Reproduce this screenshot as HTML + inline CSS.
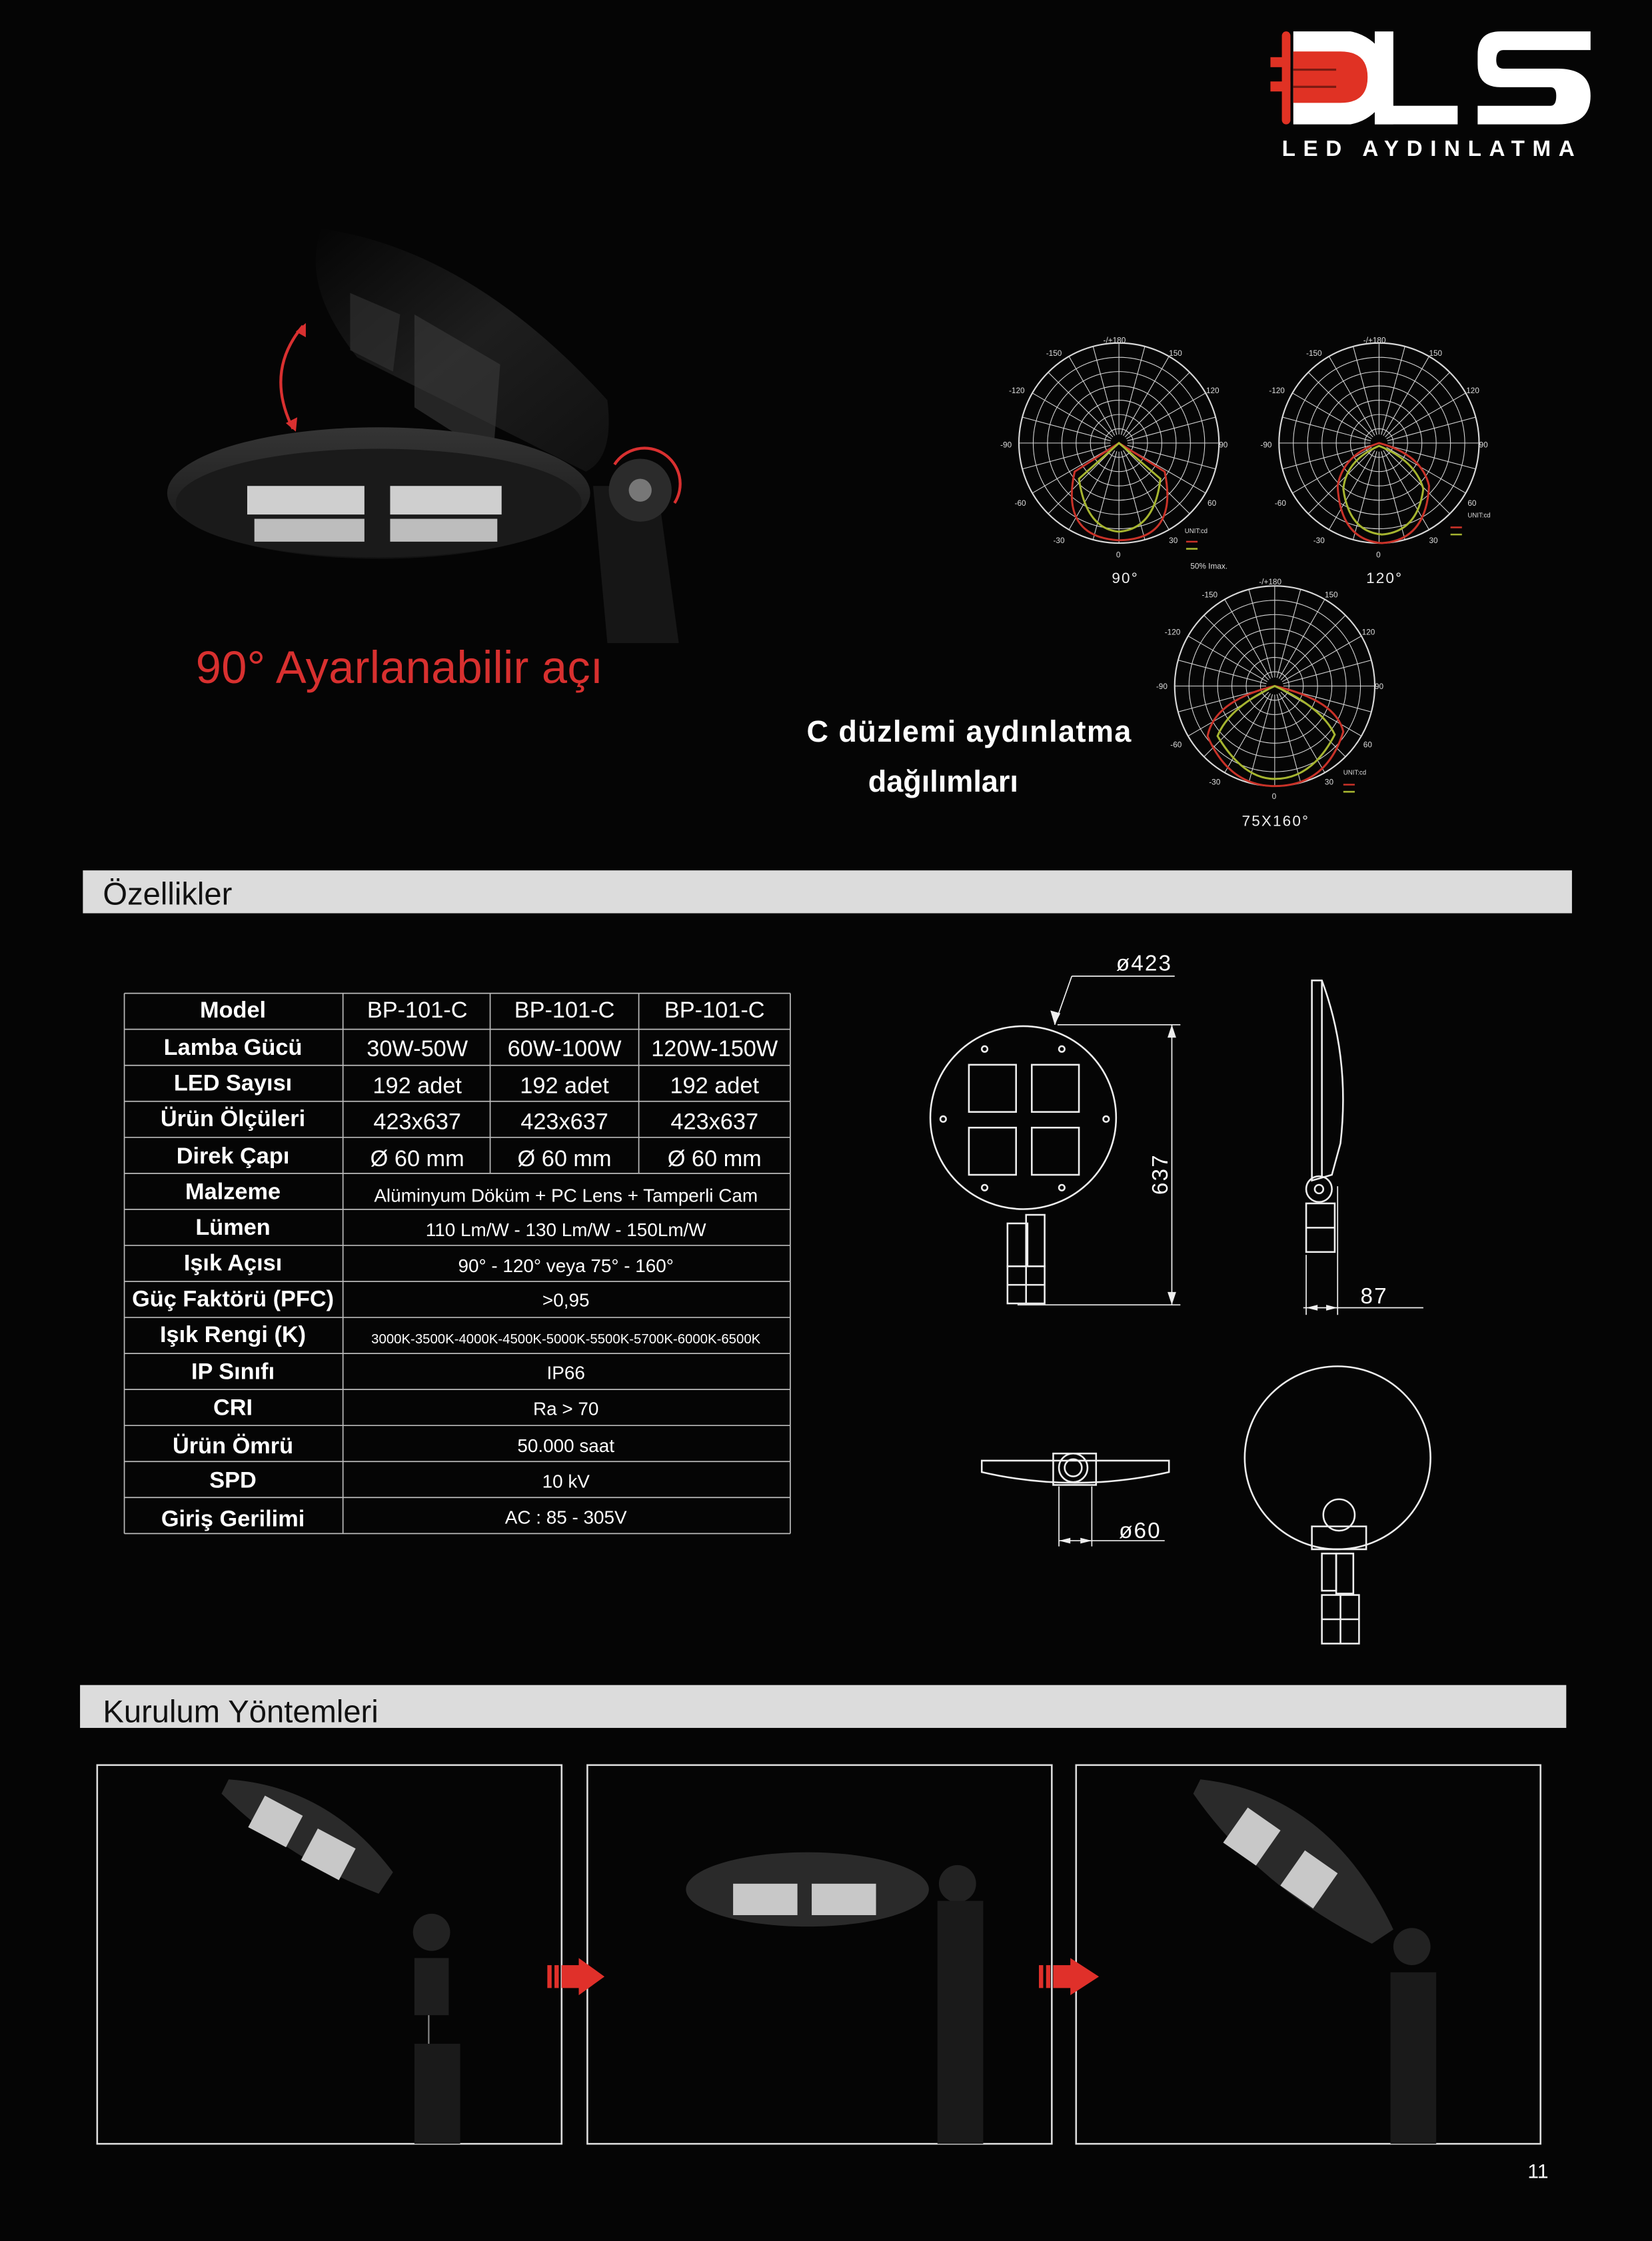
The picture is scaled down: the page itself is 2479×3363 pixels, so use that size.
<!DOCTYPE html>
<html><head><meta charset="utf-8"><style>
html,body{margin:0;padding:0;background:#050505;}
svg{display:block;}
text{font-family:"Liberation Sans",sans-serif;}
</style></head><body>
<svg xmlns="http://www.w3.org/2000/svg" width="2479" height="3363" viewBox="0 0 1156 1568" preserveAspectRatio="none">
<rect width="1156" height="1568" fill="#050505"/>

<!-- Logo -->
<g>
  <rect x="897" y="22" width="6" height="65" rx="3" fill="#e03224"/>
  <rect x="889" y="40" width="14" height="7" fill="#e03224"/>
  <rect x="889" y="57" width="14" height="7" fill="#e03224"/>
  <path d="M905,22 H945 A33,33 0 0 1 945,87 H905 Z" fill="#fff"/>
  <path d="M905,36 H938 Q957,36 957,54 Q957,72 938,72 H905 Z" fill="#e03224"/>
  <rect x="905" y="48" width="30" height="1.5" fill="#7a1a12"/>
  <rect x="905" y="60" width="30" height="1.5" fill="#7a1a12"/>
  <rect x="962" y="22" width="13" height="65" fill="#fff"/>
  <rect x="962" y="74" width="58" height="13" fill="#fff"/>
  <path d="M1113,22 H1050 Q1034,22 1034,38 V45 Q1034,61 1050,61 H1085 Q1089,61 1089,67 Q1089,74 1085,74 H1034 V87 H1090 Q1113,87 1113,67 Q1113,48 1090,48 H1052 Q1047,48 1047,42 Q1047,35 1052,35 H1113 Z" fill="#fff"/>
  <text x="897" y="109" font-size="15.5" font-weight="bold" fill="#fff" letter-spacing="5.4">LED AYDINLATMA</text>
</g>

<!-- Hero lamp -->
<g>
  <defs>
    <linearGradient id="lg1" x1="0" y1="0" x2="1" y2="1"><stop offset="0" stop-color="#050505"/><stop offset="0.5" stop-color="#1e1e1e"/><stop offset="1" stop-color="#101010"/></linearGradient>
    <linearGradient id="lg2" x1="0" y1="0" x2="0" y2="1"><stop offset="0" stop-color="#353535"/><stop offset="1" stop-color="#111"/></linearGradient>
  </defs>
  <path d="M225,160 Q330,175 425,280 Q430,320 410,330 L250,250 Q210,200 225,160Z" fill="url(#lg1)"/>
  <path d="M290,220 L350,255 L345,320 L290,285Z" fill="#3a3a3a" opacity="0.6"/>
  <path d="M245,205 L280,220 L275,260 L245,245Z" fill="#333" opacity="0.6"/>
  <path d="M415,340 L460,340 L475,450 L425,450Z" fill="#161616"/>
  <ellipse cx="265" cy="345" rx="148" ry="46" fill="url(#lg2)"/>
  <ellipse cx="265" cy="352" rx="142" ry="38" fill="#1a1a1a"/>
  <rect x="173" y="340" width="82" height="20" fill="#cfcfcf"/>
  <rect x="273" y="340" width="78" height="20" fill="#cfcfcf"/>
  <rect x="178" y="363" width="77" height="16" fill="#bdbdbd"/>
  <rect x="273" y="363" width="75" height="16" fill="#bdbdbd"/>
  <circle cx="448" cy="343" r="22" fill="#2b2b2b"/>
  <circle cx="448" cy="343" r="8" fill="#777"/>
  <path d="M212,228 Q185,260 205,300" stroke="#d93030" stroke-width="2" fill="none"/>
  <path d="M207,232 L214,226 L214,236Z M200,296 L207,302 L208,292Z" fill="#d93030"/>
  <path d="M430,325 A24,24 0 0 1 472,352" stroke="#d93030" stroke-width="2" fill="none"/>
  <text x="137" y="478" font-size="32" fill="#d8302f" textLength="285">90° Ayarlanabilir açı</text>
</g>

<!-- Polar charts -->
<g id="polars" stroke="#d8d8d8" stroke-width="0.7" fill="none"></g>
<g font-size="5.5" fill="#ddd" font-family="Liberation Mono">
  <text x="772" y="240">-/+180</text><text x="732" y="249">-150</text><text x="818" y="249">150</text>
  <text x="706" y="275">-120</text><text x="844" y="275">120</text><text x="700" y="313">-90</text><text x="853" y="313">90</text>
  <text x="710" y="354">-60</text><text x="845" y="354">60</text><text x="737" y="380">-30</text><text x="818" y="380">30</text><text x="781" y="390">0</text>
  <text x="829" y="373" font-size="4.5">UNIT:cd</text><text x="833" y="398" font-size="5.5">50% Imax.</text>

  <text x="954" y="240">-/+180</text><text x="914" y="249">-150</text><text x="1000" y="249">150</text>
  <text x="888" y="275">-120</text><text x="1026" y="275">120</text><text x="882" y="313">-90</text><text x="1035" y="313">90</text>
  <text x="892" y="354">-60</text><text x="1027" y="354">60</text><text x="919" y="380">-30</text><text x="1000" y="380">30</text><text x="963" y="390">0</text>
  <text x="1027" y="362" font-size="4.5">UNIT:cd</text>

  <text x="881" y="409">-/+180</text><text x="841" y="418">-150</text><text x="927" y="418">150</text>
  <text x="815" y="444">-120</text><text x="953" y="444">120</text><text x="809" y="482">-90</text><text x="962" y="482">90</text>
  <text x="819" y="523">-60</text><text x="954" y="523">60</text><text x="846" y="549">-30</text><text x="927" y="549">30</text><text x="890" y="559">0</text>
  <text x="940" y="542" font-size="4.5">UNIT:cd</text>
</g>
<g fill="none" stroke-width="1.4">
  <path d="M783,310 L752,330 Q742,375 782,378 Q825,378 815,330 Z" stroke="#c93228"/>
  <path d="M783,310 L755,335 Q760,370 783,372 Q808,370 812,335 Z" stroke="#a6b530"/>
  <path d="M965,310 Q940,318 936,340 Q938,378 967,380 Q998,378 1000,340 Q995,318 965,310Z" stroke="#c93228"/>
  <path d="M965,312 Q942,322 940,342 Q944,372 967,374 Q992,372 996,342 Q990,322 965,312Z" stroke="#a6b530"/>
  <path d="M892,480 Q850,490 845,515 Q860,550 892,550 Q928,550 940,512 Q935,490 892,480Z" stroke="#c93228"/>
  <path d="M892,480 Q860,495 852,515 Q870,545 892,545 Q918,545 934,514 Q925,495 892,480Z" stroke="#a6b530"/>
</g>
<g stroke-width="1.2"><line x1="830" y1="379" x2="838" y2="379" stroke="#c93228"/><line x1="830" y1="384" x2="838" y2="384" stroke="#a6b530"/>
<line x1="1015" y1="369" x2="1023" y2="369" stroke="#c93228"/><line x1="1015" y1="374" x2="1023" y2="374" stroke="#a6b530"/>
<line x1="940" y1="549" x2="948" y2="549" stroke="#c93228"/><line x1="940" y1="554" x2="948" y2="554" stroke="#a6b530"/></g>
<g font-size="10.5" fill="#eee" letter-spacing="1">
  <text x="778" y="408">90°</text><text x="956" y="408">120°</text><text x="869" y="578">75X160°</text>
</g>
<text x="678" y="519" font-size="21" font-weight="bold" fill="#fff" text-anchor="middle" textLength="227">C düzlemi aydınlatma</text>
<text x="660" y="554" font-size="21" font-weight="bold" fill="#fff" text-anchor="middle">dağılımları</text>

<!-- Özellikler bar -->
<rect x="58" y="609" width="1042" height="30" fill="#dcdcdc"/>
<text x="72" y="633" font-size="22" fill="#111">Özellikler</text>

<!-- Table -->
<g id="tbl" stroke="#bbb" stroke-width="0.8"></g>
<g fill="#fff" text-anchor="middle">
  <g font-weight="bold" font-size="16">
    <text x="163" y="712">Model</text><text x="163" y="738">Lamba Gücü</text><text x="163" y="763">LED Sayısı</text>
    <text x="163" y="788">Ürün Ölçüleri</text><text x="163" y="814">Direk Çapı</text><text x="163" y="839">Malzeme</text>
    <text x="163" y="864">Lümen</text><text x="163" y="889">Işık Açısı</text><text x="163" y="914">Güç Faktörü (PFC)</text>
    <text x="163" y="939">Işık Rengi (K)</text><text x="163" y="965">IP Sınıfı</text><text x="163" y="990">CRI</text>
    <text x="163" y="1017">Ürün Ömrü</text><text x="163" y="1041">SPD</text><text x="163" y="1068">Giriş Gerilimi</text>
  </g>
  <g font-size="16">
    <text x="292" y="712">BP-101-C</text><text x="395" y="712">BP-101-C</text><text x="500" y="712">BP-101-C</text>
    <text x="292" y="739">30W-50W</text><text x="395" y="739">60W-100W</text><text x="500" y="739">120W-150W</text>
    <text x="292" y="765">192 adet</text><text x="395" y="765">192 adet</text><text x="500" y="765">192 adet</text>
    <text x="292" y="790">423x637</text><text x="395" y="790">423x637</text><text x="500" y="790">423x637</text>
    <text x="292" y="816">Ø 60 mm</text><text x="395" y="816">Ø 60 mm</text><text x="500" y="816">Ø 60 mm</text>
  </g>
  <g font-size="13">
    <text x="396" y="841">Alüminyum Döküm + PC Lens + Tamperli Cam</text>
    <text x="396" y="865">110 Lm/W - 130 Lm/W - 150Lm/W</text>
    <text x="396" y="890">90° - 120° veya 75° - 160°</text>
    <text x="396" y="914">&gt;0,95</text>
    <text x="396" y="940" font-size="9.5">3000K-3500K-4000K-4500K-5000K-5500K-5700K-6000K-6500K</text>
    <text x="396" y="965">IP66</text><text x="396" y="990">Ra &gt; 70</text>
    <text x="396" y="1016">50.000 saat</text><text x="396" y="1041">10 kV</text><text x="396" y="1066">AC : 85 - 305V</text>
  </g>
</g>

<!-- Technical drawings -->
<g stroke="#eee" stroke-width="1.2" fill="none">
  <ellipse cx="716" cy="782" rx="65" ry="64"/>
  <rect x="678" y="745" width="33" height="33"/><rect x="722" y="745" width="33" height="33"/>
  <rect x="678" y="789" width="33" height="33"/><rect x="722" y="789" width="33" height="33"/>
  <circle cx="689" cy="734" r="2"/><circle cx="743" cy="734" r="2"/><circle cx="689" cy="831" r="2"/><circle cx="743" cy="831" r="2"/>
  <circle cx="660" cy="783" r="2"/><circle cx="774" cy="783" r="2"/>
  <rect x="705" y="856" width="14" height="30"/><rect x="718" y="850" width="13" height="36"/>
  <rect x="705" y="886" width="26" height="26"/><line x1="718" y1="886" x2="718" y2="912"/><line x1="705" y1="899" x2="731" y2="899"/>
  <line x1="750" y1="683" x2="822" y2="683" stroke-width="0.8"/><line x1="750" y1="683" x2="738" y2="717" stroke-width="0.8"/>
  <line x1="740" y1="717" x2="826" y2="717" stroke-width="0.8"/><line x1="712" y1="913" x2="826" y2="913" stroke-width="0.8"/>
  <line x1="820" y1="717" x2="820" y2="913" stroke-width="0.8"/>
  <path d="M918,686 L925,686 Q945,740 938,800 L932,822 L918,826 Z"/>
  <line x1="925" y1="686" x2="925" y2="824"/>
  <circle cx="923" cy="832" r="9"/><circle cx="923" cy="832" r="3"/>
  <rect x="914" y="842" width="20" height="34"/><line x1="914" y1="859" x2="934" y2="859"/>
  <line x1="914" y1="878" x2="914" y2="920" stroke-width="0.8"/><line x1="936" y1="830" x2="936" y2="920" stroke-width="0.8"/>
  <line x1="912" y1="915" x2="996" y2="915" stroke-width="0.8"/>
  <path d="M687,1022 L818,1022 L818,1030 Q752,1045 687,1030 Z"/>
  <rect x="737" y="1017" width="30" height="22"/><circle cx="751" cy="1027" r="10"/><circle cx="751" cy="1027" r="6"/>
  <line x1="741" y1="1040" x2="741" y2="1082" stroke-width="0.8"/><line x1="764" y1="1040" x2="764" y2="1082" stroke-width="0.8"/>
  <line x1="741" y1="1078" x2="815" y2="1078" stroke-width="0.8"/>
  <ellipse cx="936" cy="1020" rx="65" ry="64"/>
  <circle cx="937" cy="1060" r="11"/>
  <path d="M918,1068 L956,1068 L956,1084 L918,1084 Z"/>
  <rect x="925" y="1087" width="10" height="26"/><rect x="935" y="1087" width="12" height="28"/>
  <rect x="925" y="1116" width="26" height="34"/><line x1="938" y1="1116" x2="938" y2="1150"/><line x1="925" y1="1133" x2="951" y2="1133"/>
</g>
<g fill="#eee"><path d="M738,717 L735,707 L742,709Z"/><path d="M820,717 L817,726 L823,726Z M820,913 L817,904 L823,904Z"/>
<path d="M914,915 L922,913 L922,917Z M936,915 L928,913 L928,917Z"/><path d="M741,1078 L749,1076 L749,1080Z M764,1078 L756,1076 L756,1080Z"/></g>
<g fill="#fff" font-size="15.5" letter-spacing="1">
  <text x="781" y="679">ø423</text>
  <text x="0" y="0" transform="translate(817,836) rotate(-90)">637</text>
  <text x="952" y="912">87</text>
  <text x="783" y="1076">ø60</text>
</g>

<!-- Kurulum bar -->
<rect x="56" y="1179" width="1040" height="30" fill="#dcdcdc"/>
<text x="72" y="1205" font-size="22" fill="#111">Kurulum Yöntemleri</text>

<g stroke="#ddd" stroke-width="1.2" fill="none">
  <rect x="68" y="1235" width="325" height="265"/>
  <rect x="411" y="1235" width="325" height="265"/>
  <rect x="753" y="1235" width="325" height="265"/>
</g>
<g>
  <path d="M160,1245 Q230,1250 275,1310 L265,1325 Q200,1300 155,1255 Z" fill="#2a2a2a"/>
  <rect x="178" y="1262" width="30" height="25" fill="#c8c8c8" transform="rotate(28 193 1274)"/>
  <rect x="215" y="1285" width="30" height="25" fill="#c8c8c8" transform="rotate(28 230 1297)"/>
  <circle cx="302" cy="1352" r="13" fill="#222"/>
  <rect x="290" y="1370" width="24" height="40" fill="#1e1e1e"/>
  <rect x="290" y="1430" width="32" height="70" fill="#1a1a1a"/>
  <line x1="300" y1="1410" x2="300" y2="1430" stroke="#888"/>
</g>
<g>
  <ellipse cx="565" cy="1322" rx="85" ry="26" fill="#2a2a2a"/>
  <rect x="513" y="1318" width="45" height="22" fill="#c8c8c8"/><rect x="568" y="1318" width="45" height="22" fill="#c8c8c8"/>
  <circle cx="670" cy="1318" r="13" fill="#222"/>
  <rect x="656" y="1330" width="32" height="170" fill="#1a1a1a"/>
</g>
<g>
  <path d="M840,1245 Q930,1255 975,1350 L960,1360 Q880,1320 835,1255 Z" fill="#2a2a2a"/>
  <rect x="862" y="1270" width="28" height="30" fill="#c8c8c8" transform="rotate(35 876 1285)"/>
  <rect x="902" y="1300" width="28" height="30" fill="#c8c8c8" transform="rotate(35 916 1315)"/>
  <circle cx="988" cy="1362" r="13" fill="#222"/>
  <rect x="973" y="1380" width="32" height="120" fill="#1a1a1a"/>
</g>
<g fill="#e0302a">
  <rect x="383" y="1375" width="3" height="16"/><rect x="388" y="1375" width="3" height="16"/><rect x="393" y="1375" width="14" height="16"/>
  <path d="M405,1370 L423,1383 L405,1396Z"/>
  <rect x="727" y="1375" width="3" height="16"/><rect x="732" y="1375" width="3" height="16"/><rect x="737" y="1375" width="14" height="16"/>
  <path d="M749,1370 L769,1383 L749,1396Z"/>
</g>
<text x="1069" y="1524" font-size="14" fill="#fff">11</text>
</svg>
<script>
(function(){
  var ns="http://www.w3.org/2000/svg";
  var g=document.getElementById("polars");
  function el(n,a){var e=document.createElementNS(ns,n);for(var k in a)e.setAttribute(k,a[k]);g.appendChild(e);}
  [[783,310],[965,310],[892,480]].forEach(function(c){
    for(var r=10;r<=70;r+=10) el("circle",{cx:c[0],cy:c[1],r:r,"stroke-width":r==70?1:0.5});
    for(var a=0;a<360;a+=15){var t=a*Math.PI/180;el("line",{x1:c[0]+6*Math.cos(t),y1:c[1]+6*Math.sin(t),x2:c[0]+70*Math.cos(t),y2:c[1]+70*Math.sin(t),"stroke-width":0.5});}
  });
  var t=document.getElementById("tbl");
  function ln(x1,y1,x2,y2){var e=document.createElementNS(ns,"line");e.setAttribute("x1",x1);e.setAttribute("y1",y1);e.setAttribute("x2",x2);e.setAttribute("y2",y2);t.appendChild(e);}
  var top=695,h=25.2;
  for(var i=0;i<=15;i++) ln(87,top+i*h,553,top+i*h);
  ln(87,top,87,top+15*h);ln(553,top,553,top+15*h);ln(240,top,240,top+15*h);
  ln(343,top,343,top+5*h);ln(447,top,447,top+5*h);
})();
</script>
</body></html>
